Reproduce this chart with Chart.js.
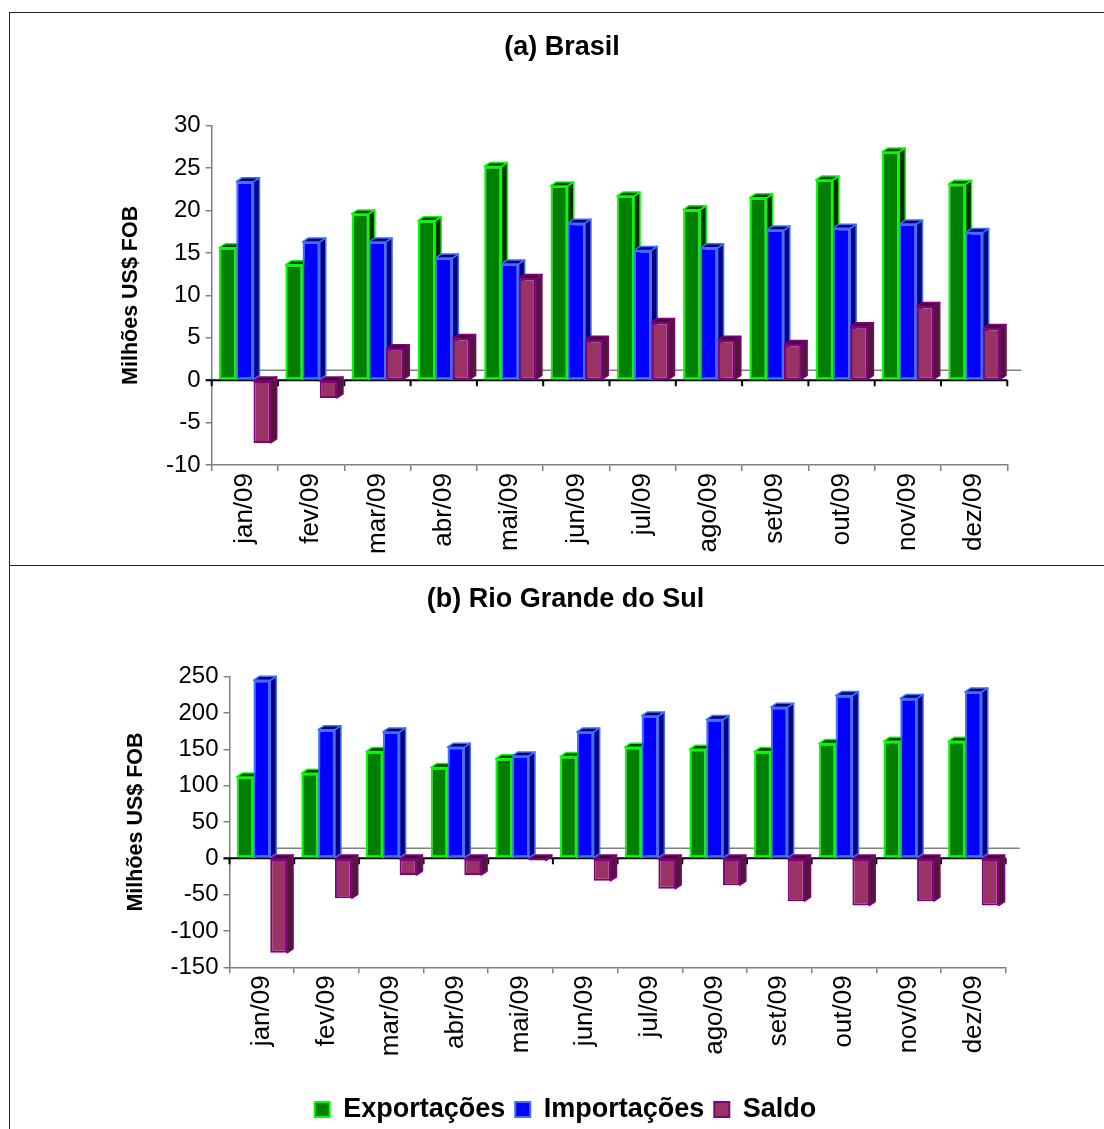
<!DOCTYPE html>
<html>
<head>
<meta charset="utf-8">
<script src="https://cdn.jsdelivr.net/npm/chart.js@4.4.0/dist/chart.umd.min.js"></script>
<style>
  html, body { margin: 0; padding: 0; background: #fff; overflow: hidden; }
  body { width: 1104px; height: 1129px; position: relative; }
  #frame { position: absolute; left: 9px; top: 12px; width: 1110px; height: 1130px;
           border-left: 1.5px solid #222; border-top: 1.5px solid #222; }
  #divider { position: absolute; left: 9px; top: 565px; width: 1110px; border-top: 1.5px solid #222; }
  canvas { position: absolute; left: 10px; }
  #chartA { top: 14px; }
  #chartB { top: 567px; }
</style>
</head>
<body>
<div id="frame"></div>
<div id="divider"></div>
<canvas id="chartA" width="1094" height="552"></canvas>
<canvas id="chartB" width="1094" height="566"></canvas>
<script>
// dados
const meses = ["jan/09", "fev/09", "mar/09", "abr/09", "mai/09", "jun/09",
               "jul/09", "ago/09", "set/09", "out/09", "nov/09", "dez/09"];

const brExport = [15.6, 13.6, 19.6, 18.8, 25.2, 22.9, 21.7, 20.1, 21.5, 23.6, 26.9, 23.1];
const brImport = [23.4, 16.3, 16.3, 14.4, 13.7, 18.5, 15.3, 15.6, 17.7, 17.9, 18.4, 17.4];
const brSaldo  = [-7.4, -2.1, 3.7, 4.9, 12.0, 4.7, 6.8, 4.7, 4.2, 6.3, 8.7, 6.1];

const rsExport = [112, 117, 147, 125, 137, 140, 153, 150, 147, 158, 161, 161];
const rsImport = [245, 177, 174, 153, 141, 174, 196, 191, 208, 224, 220, 229];
const rsSaldo  = [-130, -55, -23, -23, -3, -31, -42, -37, -59, -65, -59, -65];

const fillCol  = ["#008000", "#0000ff", "#993366"];
const edgeCol  = ["#00ff00", "#3f6fff", "#800080"];
const sideCol  = ["#002e00", "#000080", "#4d1a33"];
const topCol   = ["#003a00", "#00006e", "#3d1028"];

Chart.defaults.font.family = "'Liberation Sans', Arial, sans-serif";
Chart.defaults.color = "#000";

// faces laterais/topo das colunas + linha do zero
const depth3d = {
  id: "depth3d",
  beforeDatasetsDraw(chart) {
    const ctx = chart.ctx;
    const area = chart.chartArea;
    const y0 = chart.scales.y.getPixelForValue(0);
    const n = chart.data.labels.length;
    const cw = (area.right - area.left) / n;
    const dx = 6, dy = 4;

    ctx.save();
    // fundo (linha cinza atrás)
    ctx.strokeStyle = "#808080";
    ctx.lineWidth = 1.5;
    ctx.beginPath();
    ctx.moveTo(area.left + 14, y0 - 10);
    ctx.lineTo(area.right + 14, y0 - 10);
    ctx.stroke();
    // linha do zero com marcas
    ctx.strokeStyle = "#000";
    ctx.lineWidth = 2;
    ctx.beginPath();
    ctx.moveTo(area.left - 6, y0);
    ctx.lineTo(area.right, y0);
    for (let i = 0; i <= n; i++) {
      const x = area.left + i * cw;
      ctx.moveTo(x, y0);
      ctx.lineTo(x, y0 + 6);
    }
    ctx.stroke();

    ctx.lineWidth = 1.5;
    ctx.lineJoin = "round";
    for (let i = 0; i < n; i++) {
      chart.data.datasets.forEach((ds, d) => {
        const bar = chart.getDatasetMeta(d).data[i];
        const p = bar.getProps(["x", "y", "base", "width"], true);
        const l = p.x - p.width / 2, r = p.x + p.width / 2;
        const top = Math.min(p.y, p.base), bot = Math.max(p.y, p.base);
        ctx.strokeStyle = edgeCol[d];
        // lado
        ctx.fillStyle = sideCol[d];
        ctx.beginPath();
        ctx.moveTo(r, top);
        ctx.lineTo(r + dx, top - dy);
        ctx.lineTo(r + dx, bot - dy);
        ctx.lineTo(r, bot);
        ctx.closePath();
        ctx.fill();
        ctx.stroke();
        // topo
        ctx.fillStyle = topCol[d];
        ctx.beginPath();
        ctx.moveTo(l, top);
        ctx.lineTo(l + dx, top - dy);
        ctx.lineTo(r + dx, top - dy);
        ctx.lineTo(r, top);
        ctx.closePath();
        ctx.fill();
        ctx.stroke();
      });
    }
    ctx.restore();
  }
};

function makeChart(id, titulo, exp, imp, sal, yMin, yMax, step, lay) {
  return new Chart(document.getElementById(id), {
    type: "bar",
    data: {
      labels: meses,
      datasets: [
        { label: "Exportações", data: exp },
        { label: "Importações", data: imp },
        { label: "Saldo", data: sal }
      ].map((ds, i) => Object.assign(ds, {
        backgroundColor: fillCol[i],
        borderColor: edgeCol[i],
        borderWidth: 2,
        borderSkipped: false,
        categoryPercentage: 0.78,
        barPercentage: 1.0
      }))
    },
    options: {
      responsive: false,
      animation: false,
      events: [],
      layout: { padding: { left: lay.left, right: lay.right, top: 0, bottom: 0 } },
      plugins: {
        title: {
          display: true,
          text: titulo,
          font: { size: 27, weight: "bold", lineHeight: 1.2 },
          color: "#000",
          padding: { top: lay.titleTop, bottom: lay.titleBottom }
        },
        legend: {
          display: lay.legend,
          position: "bottom",
          labels: {
            boxWidth: 15,
            boxHeight: 15,
            padding: 10,
            font: { size: 27, weight: "bold" },
            color: "#000"
          }
        },
        tooltip: { enabled: false }
      },
      scales: {
        x: {
          grid: { offset: true, drawOnChartArea: false, tickLength: 6, color: "#808080", lineWidth: 1.5 },
          border: { color: "#808080", width: 1.5 },
          ticks: { font: { size: 26 }, color: "#000", minRotation: 90, maxRotation: 90, autoSkip: false, padding: 2 },
          afterFit(scale) { scale.height = lay.xHeight; }
        },
        y: {
          min: yMin,
          max: yMax,
          ticks: { stepSize: step, font: { size: 24 }, color: "#000", padding: 5 },
          grid: { drawOnChartArea: false, tickLength: 6, color: "#808080", lineWidth: 1.5 },
          border: { color: "#808080", width: 1.5 },
          title: {
            display: true,
            text: "Milhões US$ FOB",
            font: { size: 21.5, weight: "bold", lineHeight: 1 },
            color: "#000",
            padding: { top: lay.yTitlePad, bottom: 0 }
          },
          afterFit(scale) { scale.width = lay.yWidth; }
        }
      }
    },
    plugins: [depth3d]
  });
}

makeChart("chartA", "(a) Brasil", brExport, brImport, brSaldo, -10, 30, 5, {
  left: 106.7, right: 96.7, yWidth: 95, yTitlePad: 4,
  titleTop: 17.8, titleBottom: 61.5, xHeight: 101, legend: false
});

makeChart("chartB", "(b) Rio Grande do Sul", rsExport, rsImport, rsSaldo, -150, 250, 50, {
  left: 115.3, right: 98.3, yWidth: 104.2, yTitlePad: 0,
  titleTop: 16.8, titleBottom: 60.5, xHeight: 118.7, legend: true
});
</script>
</body>
</html>
